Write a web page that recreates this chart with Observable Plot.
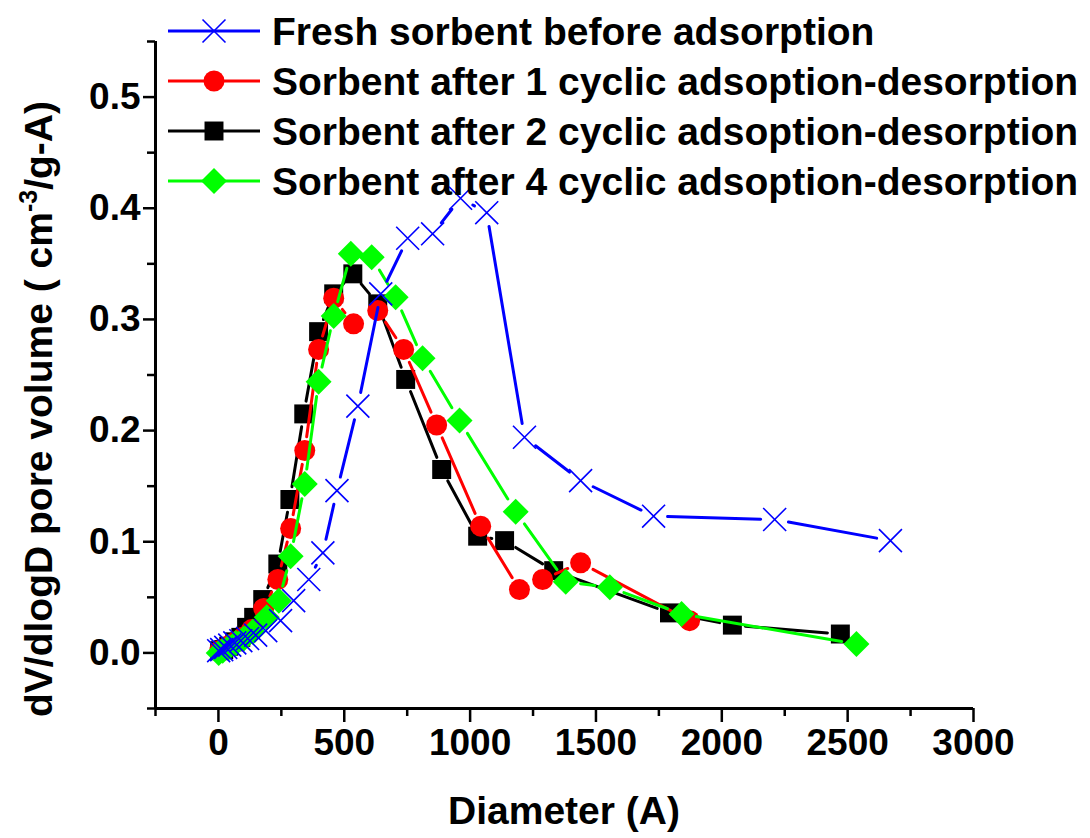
<!DOCTYPE html>
<html>
<head>
<meta charset="utf-8">
<script src="https://cdn.jsdelivr.net/npm/d3@7"></script>
<script src="https://cdn.jsdelivr.net/npm/@observablehq/plot@0.6"></script>
<style>
  html, body { margin: 0; padding: 0; background: #fff; }
  #chart { width: 1090px; height: 838px; }
  svg { font-family: "Liberation Sans", Arial, sans-serif; }
</style>
</head>
<body>
<div id="chart"></div>
<script>
// ---- Data ----
const seriesNames = [
  "Fresh sorbent before adsorption",
  "Sorbent after 1 cyclic adsoption-desorption",
  "Sorbent after 2 cyclic adsoption-desorption",
  "Sorbent after 4 cyclic adsoption-desorption"
];

const freshX = [1, 13, 29, 45, 65, 89, 116, 148, 188, 247, 299, 359, 415, 471, 554, 645, 752, 851, 962, 1066, 1216, 1439, 1729, 2210, 2670];
const freshY = [0.002, 0.003, 0.005, 0.007, 0.009, 0.011, 0.013, 0.016, 0.020, 0.029, 0.047, 0.066, 0.090, 0.146, 0.222, 0.323, 0.373, 0.377, 0.409, 0.396, 0.194, 0.155, 0.123, 0.120, 0.101];

const cyc1X = [5, 25, 45, 69, 97, 132, 180, 236, 287, 343, 398, 458, 537, 633, 736, 867, 1042, 1196, 1288, 1439, 1872];
const cyc1Y = [0.002, 0.004, 0.007, 0.010, 0.014, 0.021, 0.040, 0.066, 0.112, 0.182, 0.273, 0.319, 0.296, 0.308, 0.273, 0.205, 0.114, 0.057, 0.066, 0.081, 0.029];

const cyc2X = [5, 21, 41, 65, 89, 112, 140, 176, 236, 284, 339, 398, 458, 534, 633, 744, 887, 1030, 1137, 1332, 1792, 2042, 2471];
const cyc2Y = [0.002, 0.003, 0.006, 0.010, 0.014, 0.023, 0.032, 0.048, 0.080, 0.138, 0.215, 0.289, 0.323, 0.341, 0.314, 0.246, 0.165, 0.105, 0.101, 0.074, 0.036, 0.025, 0.017];

const cyc4X = [1, 17, 41, 69, 101, 137, 192, 240, 287, 343, 398, 458, 526, 609, 704, 811, 958, 1181, 1380, 1555, 1840, 2535];
const cyc4Y = [0.000, 0.002, 0.005, 0.009, 0.013, 0.019, 0.032, 0.047, 0.087, 0.152, 0.244, 0.303, 0.359, 0.356, 0.320, 0.265, 0.209, 0.127, 0.064, 0.059, 0.035, 0.008];

const xMajorTicks = [0, 500, 1000, 1500, 2000, 2500, 3000];
const xMinorTicks = [-250, 250, 750, 1250, 1750, 2250, 2750];
const yMajorTicks = [0.0, 0.1, 0.2, 0.3, 0.4, 0.5];
const yMinorTicks = [-0.05, 0.05, 0.15, 0.25, 0.35, 0.45, 0.55];

const xTitle = "Diameter (A)";

// ---- Build tables ----
function pts(xs, ys) { return xs.map((x, i) => ({x, y: ys[i]})); }
function segs(p) { return d3.pairs(p).map(([a, b]) => ({x1: a.x, y1: a.y, x2: b.x, y2: b.y})); }

const styles = [
  {name: seriesNames[2], xs: cyc2X, ys: cyc2Y, color: "#000000", symbol: "square", r: 10.7, gap: 13, open: false},
  {name: seriesNames[1], xs: cyc1X, ys: cyc1Y, color: "#ff0000", symbol: "circle", r: 10.5, gap: 14, open: false},
  {name: seriesNames[3], xs: cyc4X, ys: cyc4Y, color: "#00ff00", symbol: "diamond2", r: 11.7, gap: 15, open: false},
  {name: seriesNames[0], xs: freshX, ys: freshY, color: "#0000ff", symbol: "times", r: 10.5, gap: 14, open: true}
];

const marks = [];
for (const s of styles) {
  const p = pts(s.xs, s.ys);
  marks.push(Plot.arrow(segs(p), {
    x1: "x1", y1: "y1", x2: "x2", y2: "y2",
    stroke: s.color, strokeWidth: 3, headLength: 0,
    insetStart: s.gap, insetEnd: s.gap
  }));
  marks.push(Plot.dot(p, s.open
    ? {x: "x", y: "y", symbol: s.symbol, r: s.r, stroke: s.color, strokeWidth: 1.6, fill: "none"}
    : {x: "x", y: "y", symbol: s.symbol, r: s.r, fill: s.color, stroke: "none"}));
}

const FONT = "Liberation Sans, Arial, sans-serif";

const plot = Plot.plot({
  width: 1090,
  height: 838,
  marginLeft: 155,
  marginRight: 117,
  marginTop: 41,
  marginBottom: 130,
  style: {fontFamily: FONT, background: "#fff"},
  x: {domain: [-250, 3000]},
  y: {domain: [-0.05, 0.55]},
  marks: [
    Plot.axisX({ticks: xMinorTicks, tickSize: 8, strokeWidth: 2.5, tickFormat: () => "", label: null}),
    Plot.axisX({ticks: xMajorTicks, tickSize: 14, strokeWidth: 2.5, tickPadding: 6, tickFormat: d3.format("d"),
                fontSize: 37, fontWeight: "bold", fill: "#000", label: null}),
    Plot.axisY({ticks: yMinorTicks, tickSize: 8, strokeWidth: 2.5, tickFormat: () => "", label: null}),
    Plot.axisY({ticks: yMajorTicks, tickSize: 12, strokeWidth: 2.5, tickPadding: 3, tickFormat: d3.format(".1f"),
                fontSize: 37, fontWeight: "bold", fill: "#000", label: null}),
    Plot.ruleX([-250], {strokeWidth: 3}),
    Plot.ruleY([-0.05], {strokeWidth: 3}),
    ...marks
  ]
});

const svg = d3.select(plot);

// Axis titles
svg.append("text")
  .attr("x", 564).attr("y", 824)
  .attr("text-anchor", "middle")
  .attr("font-size", 39).attr("font-weight", "bold").attr("font-family", FONT)
  .text(xTitle);

const yt = svg.append("text")
  .attr("transform", "translate(52,409) rotate(-90)")
  .attr("text-anchor", "middle")
  .attr("font-size", 39).attr("font-weight", "bold").attr("font-family", FONT);
yt.append("tspan").text("dV/dlogD pore volume ( cm");
yt.append("tspan").attr("dy", -15).attr("font-size", 25).text("-3");
yt.append("tspan").attr("dy", 15).text("/g-A)");

// Legend
const legendOrder = [
  {name: seriesNames[0], color: "#0000ff", symbol: d3.symbolTimes, r: 10.5, open: true},
  {name: seriesNames[1], color: "#ff0000", symbol: d3.symbolCircle, r: 10.5, open: false},
  {name: seriesNames[2], color: "#000000", symbol: d3.symbolSquare, r: 10.7, open: false},
  {name: seriesNames[3], color: "#00ff00", symbol: d3.symbolDiamond2, r: 11.7, open: false}
];
const lg = svg.append("g").attr("text-anchor", "start");
legendOrder.forEach((s, i) => {
  const cy = 31 + i * 50;
  const g = lg.append("g").attr("transform", `translate(0,${cy})`);
  g.append("line").attr("x1", 168).attr("x2", 260).attr("y1", 0).attr("y2", 0)
    .attr("stroke", s.color).attr("stroke-width", 3);
  g.append("path").attr("transform", "translate(214,0)")
    .attr("d", d3.symbol(s.symbol, Math.PI * s.r * s.r)())
    .attr("fill", s.open ? "none" : s.color)
    .attr("stroke", s.open ? s.color : "none")
    .attr("stroke-width", s.open ? 1.6 : 0);
  g.append("text").attr("x", 272).attr("y", 14)
    .attr("text-anchor", "start")
    .attr("font-size", 39).attr("font-weight", "bold").attr("font-family", FONT)
    .attr("fill", "#000").text(s.name);
});

document.getElementById("chart").appendChild(plot);
</script>
</body>
</html>
